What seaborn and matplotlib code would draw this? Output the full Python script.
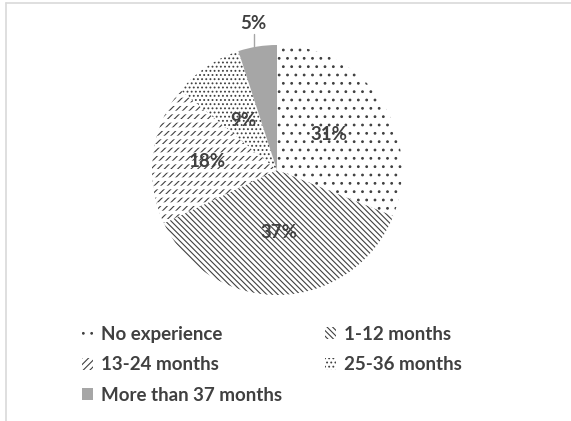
import matplotlib
matplotlib.use("Agg")
import matplotlib.pyplot as plt
import matplotlib.patches as mpatches
from matplotlib.lines import Line2D
import seaborn as sns
import numpy as np

categories = ["No experience", "1-12 months", "13-24 months", "25-36 months", "More than 37 months"]
values = [31, 37, 18, 9, 5]
labels = ["31%", "37%", "18%", "9%", "5%"]
hatches = ["..", "\\\\\\\\\\\\", "/////", "....", None]
facecolors = ["white", "white", "white", "white", "#a6a6a6"]

sns.set_theme(style="white")
plt.rcParams['font.family'] = ['Lato', 'DejaVu Sans']
plt.rcParams['hatch.linewidth'] = 0.8
plt.rcParams['hatch.color'] = '#404040'

W, H = 571, 421
fig = plt.figure(figsize=(W / 100, H / 100), dpi=100)
fig.patch.set_facecolor("white")

cx, cy, R = 277, 170, 125
ax = fig.add_axes([(cx - R) / W, (H - cy - R) / H, 2 * R / W, 2 * R / H])
wedges, _ = ax.pie(values, startangle=90, counterclock=False, radius=1,
                   colors=facecolors, wedgeprops=dict(linewidth=0, edgecolor="white"))
for w, h in zip(wedges, hatches):
    if h:
        w.set_hatch(h)
        w.set_edgecolor("#404040")
        w.set_linewidth(0)

# break the 13-24 hatch into rows of short dashes
plt.rcParams['hatch.linewidth'] = 2.6
w2 = wedges[2]
overlay = mpatches.Wedge((0, 0), 1, w2.theta1, w2.theta2, facecolor="none",
                         edgecolor="white", linewidth=0, hatch="--")
ax.add_patch(overlay)
plt.rcParams['hatch.linewidth'] = 0.8

ax.set_xlim(-1, 1)
ax.set_ylim(-1, 1)
ax.set_aspect("equal")
ax.axis("off")

txtcolor = "#404040"
inner_r = [0.5, 0.5, 0.56, 0.48]
for i, w in enumerate(wedges):
    ang = np.deg2rad((w.theta1 + w.theta2) / 2)
    if i < 4:
        r = inner_r[i]
        ax.text(r * np.cos(ang), r * np.sin(ang), labels[i], ha="center", va="center",
                fontsize=13.5, fontweight="bold", color=txtcolor)
    else:
        x = 1.19 * np.cos(ang)
        ylab = 1.19 * np.sin(ang)
        ax.text(x, ylab, labels[i], ha="center", va="center", fontsize=13.5,
                fontweight="bold", color=txtcolor, clip_on=False)
        ax.add_line(Line2D([x, x], [np.sqrt(1 - x * x), ylab - 0.09], color="#a6a6a6",
                           linewidth=1, clip_on=False))

handles = [mpatches.Patch(facecolor=fc, hatch=h, edgecolor="#404040" if h else fc, linewidth=0)
           for fc, h in zip(facecolors, hatches)]
order = [0, 2, 4, 1, 3]
leg = fig.legend([handles[i] for i in order], [categories[i] for i in order], ncol=2,
                 frameon=False, loc="upper left", bbox_to_anchor=(65 / W, 1 - 309 / H),
                 prop=dict(size=13.5, weight="bold"), labelcolor=txtcolor,
                 handlelength=0.6, handleheight=0.6, handletextpad=0.4,
                 columnspacing=2.3, labelspacing=0.72)

# light frame lines (left and top)
fig.add_artist(Line2D([5.5 / W, 5.5 / W], [0, 1 - 3 / H], color="#d9d9d9", linewidth=1.2,
                      transform=fig.transFigure))
fig.add_artist(Line2D([5.5 / W, 1], [1 - 3 / H, 1 - 3 / H], color="#d9d9d9", linewidth=1.2,
                      transform=fig.transFigure))

fig.savefig("out.png", dpi=100, facecolor="white")
